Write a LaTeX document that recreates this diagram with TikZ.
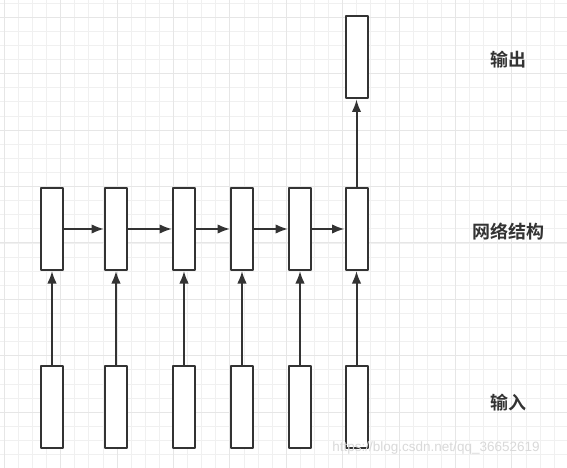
\documentclass[tikz,border=0pt]{standalone}
\usepackage{fontspec}
\newfontfamily\cjkbold{Noto Sans CJK SC Bold}
\setsansfont{Liberation Sans}
\usetikzlibrary{arrows.meta}
\definecolor{linegray}{HTML}{333333}
\definecolor{gridminor}{HTML}{F0F0F0}
\definecolor{gridmajor}{HTML}{E6E6E6}
\begin{document}
\begin{tikzpicture}[x=1pt,y=-1pt,>={Latex[length=12.5pt,width=9.5pt]},line join=bevel,
  cell/.style={draw=linegray,line width=2pt,fill=white,inner sep=0pt,minimum width=22pt,minimum height=82pt},
  layer/.style={font=\cjkbold\fontsize{18}{21}\selectfont,text=linegray,inner sep=0pt},
  link/.style={draw=linegray,line width=2pt,->}]
\useasboundingbox (0,0) rectangle (567,468);
\fill[white] (0,0) rectangle (567,468);
%% background grid
\foreach \i in {0,...,40} {
  \draw[gridminor,line width=1pt] (4.3+14.1*\i,0) -- (4.3+14.1*\i,468);
  \draw[gridminor,line width=1pt] (0,3.3+14.1*\i) -- (567,3.3+14.1*\i);
}
\foreach \i in {0,...,10} {
  \draw[gridmajor,line width=1pt] (4.3+56.4*\i,0) -- (4.3+56.4*\i,468);
  \draw[gridmajor,line width=1pt] (0,17.3+56.4*\i) -- (567,17.3+56.4*\i);
}
%%
\node (node_in_0) at (52.0,406.5) [cell] {};
  \node (node_in_1) at (116.0,406.5) [cell] {};
  \node (node_in_2) at (184.0,406.5) [cell] {};
  \node (node_in_3) at (242.0,406.5) [cell] {};
  \node (node_in_4) at (300.0,406.5) [cell] {};
  \node (node_in_5) at (356.5,406.5) [cell] {};
  \node (node_h_0) at (52.0,229.0) [cell] {};
  \node (node_h_1) at (116.0,229.0) [cell] {};
  \node (node_h_2) at (184.0,229.0) [cell] {};
  \node (node_h_3) at (242.0,229.0) [cell] {};
  \node (node_h_4) at (300.0,229.0) [cell] {};
  \node (node_h_5) at (356.5,229.0) [cell] {};
  \node (node_out) at (356.5,57.5) [cell] {};
  \draw [link] (node_in_0) -- (node_h_0);
  \draw [link] (node_in_1) -- (node_h_1);
  \draw [link] (node_in_2) -- (node_h_2);
  \draw [link] (node_in_3) -- (node_h_3);
  \draw [link] (node_in_4) -- (node_h_4);
  \draw [link] (node_in_5) -- (node_h_5);
  \draw [link] (node_h_0) -- (node_h_1);
  \draw [link] (node_h_1) -- (node_h_2);
  \draw [link] (node_h_2) -- (node_h_3);
  \draw [link] (node_h_3) -- (node_h_4);
  \draw [link] (node_h_4) -- (node_h_5);
  \draw [link] (node_h_5) -- (node_out);
%
\node (label_out) at (508.0,60.0) [layer] {输出};
  \node (label_h) at (508.5,232.0) [layer] {网络结构};
  \node (label_in) at (508.0,403.0) [layer] {输入};
  \node (mark) at (436.0,448.0) [font=\sffamily\fontsize{13.5}{16}\selectfont,text=gray!30,inner sep=0pt] {https://blog.csdn.net/qq\_36652619};
%
\end{tikzpicture}
\end{document}
